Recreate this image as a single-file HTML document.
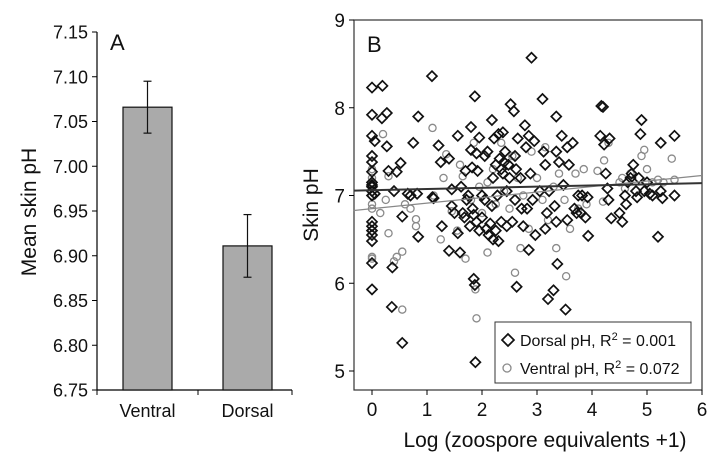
<!DOCTYPE html>
<html><head><meta charset="utf-8"><style>
html,body{margin:0;padding:0;background:#fff;}
svg{display:block;font-family:"Liberation Sans",Arial,sans-serif;}
</style></head><body>
<svg id="chart" width="726" height="458" viewBox="0 0 726 458" xmlns="http://www.w3.org/2000/svg">
<g id="pa"></g>
<g id="pb"></g>
</svg>
<script>
// Panel A data
const barCats = ["Ventral","Dorsal"];
const barMeans = [7.066, 6.911];
const barErr = [0.029, 0.035];
const aTicks = ["6.75","6.80","6.85","6.90","6.95","7.00","7.05","7.10","7.15"];
// Panel B data
const dorsalX = [0,0,0,0,0,0,0,0,0,0,0,0,0,0,0,0,0,0,0.05,0.05,0.19,0.18,0.27,0.27,0.3,0.4,0.45,0.52,0.55,0.37,0.36,0.55,0.65,0.7,0.75,0.82,0.84,0.84,1.09,1.1,1.12,1.21,1.25,1.27,1.4,1.4,1.45,1.45,1.5,1.56,1.56,1.6,1.62,1.65,1.68,1.7,1.72,1.75,1.78,1.8,1.8,1.82,1.83,1.85,1.85,1.87,1.87,1.88,1.9,1.9,1.92,1.95,1.95,2.0,2.0,2.05,2.05,2.08,2.1,2.12,2.15,2.18,2.18,2.2,2.2,2.22,2.25,2.25,2.28,2.3,2.3,2.32,2.35,2.35,2.38,2.38,2.4,2.42,2.45,2.45,2.48,2.5,2.52,2.55,2.58,2.6,2.6,2.62,2.63,2.65,2.7,2.72,2.75,2.78,2.8,2.82,2.85,2.85,2.88,2.9,2.92,2.95,2.97,3.05,3.1,3.12,3.15,3.15,3.18,3.2,3.22,3.3,3.32,3.35,3.35,3.35,3.37,3.4,3.45,3.48,3.52,3.55,3.55,3.58,3.65,3.68,3.72,3.75,3.8,3.82,3.88,3.92,3.93,4.15,4.17,4.2,4.22,4.25,4.28,4.3,4.32,4.35,4.5,4.55,4.6,4.62,4.65,4.7,4.72,4.75,4.8,4.82,4.85,4.88,4.9,4.95,5.0,5.05,5.1,5.2,5.25,5.25,5.28,5.5,5.5];
const dorsalY = [8.23,7.92,7.68,7.45,7.38,7.27,7.15,7.12,7.10,7.05,7.0,6.7,6.65,6.6,6.55,6.48,6.23,5.93,7.62,7.02,8.25,7.88,7.94,7.56,7.28,7.05,7.27,7.37,6.76,6.18,5.73,5.32,7.02,7.0,7.6,7.02,7.9,6.53,8.36,6.98,6.97,7.57,7.38,6.65,7.42,6.37,7.07,6.88,6.8,7.68,6.57,6.35,7.1,6.8,6.75,7.28,6.95,7.0,6.65,7.78,7.52,7.32,6.85,6.78,6.05,8.13,5.98,5.1,7.48,6.7,7.28,7.66,6.6,7.0,6.75,7.45,6.95,6.62,7.5,6.55,6.68,7.86,6.88,7.2,6.5,7.65,7.35,6.6,7.0,7.7,6.48,7.42,7.3,6.7,7.72,7.25,7.38,7.5,7.05,6.65,7.35,7.2,8.04,6.7,7.96,7.45,6.95,7.3,5.96,7.65,7.2,6.85,6.65,7.8,7.55,6.85,7.68,6.38,7.25,8.57,6.95,7.62,6.55,7.05,8.1,7.5,7.35,6.62,6.8,5.82,7.05,5.92,6.88,7.9,7.5,6.7,6.22,7.38,7.68,7.12,5.7,7.55,6.72,7.35,7.6,6.85,6.8,7.0,6.8,7.0,6.75,6.98,6.54,7.68,8.02,8.01,7.58,7.25,7.08,6.95,7.65,6.74,6.8,6.7,7.0,6.9,7.15,7.2,7.25,7.35,7.05,6.98,7.2,7.7,7.86,7.05,7.15,7.02,7.0,6.53,7.6,7.05,6.97,7.68,7.0];
const ventralX = [0,0,0,0,0,0,0,0,0,0.2,0.15,0.25,0.3,0.3,0.4,0.45,0.55,0.55,0.6,0.7,0.8,0.8,1.1,1.12,1.25,1.3,1.35,1.45,1.55,1.6,1.65,1.7,1.8,1.85,1.88,1.9,1.95,2.0,2.1,2.1,2.2,2.25,2.35,2.4,2.5,2.55,2.6,2.65,2.7,2.75,2.85,2.9,3.0,3.1,3.15,3.2,3.3,3.35,3.4,3.5,3.53,3.6,3.7,3.75,3.85,3.9,4.1,4.2,4.22,4.3,4.5,4.55,4.6,4.7,4.9,4.95,5.0,5.1,5.2,5.3,5.45,5.5];
const ventralY = [7.3,7.2,7.0,6.9,6.85,6.6,6.3,6.28,7.1,7.7,6.8,6.95,7.22,6.57,6.25,6.3,6.36,5.7,6.9,6.85,6.65,6.73,7.77,7.0,6.5,7.2,7.47,6.82,6.6,7.35,7.22,6.28,6.95,7.6,5.93,5.6,7.1,6.8,7.15,6.35,7.3,6.9,7.6,7.05,6.85,7.45,6.12,7.2,6.4,7.0,6.62,7.5,7.2,6.95,7.55,6.72,7.1,6.4,7.25,6.95,6.08,6.62,7.25,6.85,7.3,6.9,7.28,6.93,7.4,7.6,7.15,7.2,7.08,7.25,7.45,7.52,7.3,7.15,7.18,7.15,7.42,7.18];
const bYTicks = [5,6,7,8,9];
const bXTicks = [0,1,2,3,4,5,6];
const dorsalFit = [7.06, 0.0135]; // intercept, slope
const ventralFit = [6.85, 0.063];

const NS="http://www.w3.org/2000/svg";
function mk(p,t,a){const e=document.createElementNS(NS,t);for(const k in a)e.setAttribute(k,a[k]);p.appendChild(e);return e;}

// ---- Panel A ----
const pa=document.getElementById('pa');
const ay=v=>390-(v-6.75)/0.40*358;
const barCx=[147.5,247.5], barW=49;
let e=mk(pa,'line',{x1:97,y1:32,x2:97,y2:390,stroke:'#000','stroke-width':1.2});


e=mk(pa,'line',{x1:97,y1:390,x2:292,y2:390,stroke:'#000','stroke-width':1.2});


[97,198,292].forEach(x=>mk(pa,'line',{x1:x,y1:390,x2:x,y2:395,stroke:'#000','stroke-width':1}));
aTicks.forEach(t=>{const y=ay(parseFloat(t));
 mk(pa,'line',{x1:92,y1:y,x2:97,y2:y,stroke:'#000','stroke-width':1});
 const tx=mk(pa,'text',{x:88,y:y+6.5,'text-anchor':'end','font-size':18,fill:'#111'});tx.textContent=t;
 
 });
barCats.forEach((c,i)=>{const top=ay(barMeans[i]);
 const r=mk(pa,'rect',{x:barCx[i]-barW/2,y:top,width:barW,height:390-top,fill:'#aaaaaa',stroke:'#111','stroke-width':1.2});
 
 
 const y1=ay(barMeans[i]+barErr[i]),y2=ay(barMeans[i]-barErr[i]);
 const g=mk(pa,'g',{stroke:'#111','stroke-width':1.2});
 
 
 mk(g,'line',{x1:barCx[i],y1:y1,x2:barCx[i],y2:y2});
 mk(g,'line',{x1:barCx[i]-4,y1:y1,x2:barCx[i]+4,y2:y1});
 mk(g,'line',{x1:barCx[i]-4,y1:y2,x2:barCx[i]+4,y2:y2});
 const tx=mk(pa,'text',{x:barCx[i],y:417,'text-anchor':'middle','font-size':18,fill:'#111'});tx.textContent=c;
 
 });
e=mk(pa,'text',{x:0,y:0,transform:'translate(36,212) rotate(-90)','text-anchor':'middle','font-size':21,fill:'#111'});e.textContent='Mean skin pH';


e=mk(pa,'text',{x:110,y:50,'font-size':22,fill:'#111'});e.textContent='A';



// ---- Panel B ----
const pb=document.getElementById('pb');
const bx=v=>372+v*55, by=v=>371-(v-5)*87.75;
e=mk(pb,'rect',{x:354,y:20,width:348,height:370,fill:'none',stroke:'#333','stroke-width':1.2});


bYTicks.forEach(t=>{const y=by(t);mk(pb,'line',{x1:349,y1:y,x2:354,y2:y,stroke:'#000'});
 const tx=mk(pb,'text',{x:345,y:y+7,'text-anchor':'end','font-size':19,fill:'#111'});tx.textContent=t;
 
 });
bXTicks.forEach(t=>{const x=bx(t);mk(pb,'line',{x1:x,y1:390,x2:x,y2:395,stroke:'#000'});
 const tx=mk(pb,'text',{x:x,y:416,'text-anchor':'middle','font-size':19,fill:'#111'});tx.textContent=t;
 
 });
ventralX.forEach((x,i)=>{const c=mk(pb,'circle',{cx:bx(x),cy:by(ventralY[i]),r:3.6,fill:'none',stroke:'#8a8a8a','stroke-width':1.3});
 
 });
dorsalX.forEach((x,i)=>{const cx=bx(x),cy=by(dorsalY[i]),s=5;
 const p=mk(pb,'path',{d:`M${cx} ${cy-s}L${cx+s} ${cy}L${cx} ${cy+s}L${cx-s} ${cy}Z`,fill:'none',stroke:'#111','stroke-width':1.7});
 
 });
const x0=-0.33,x1=6;
e=mk(pb,'line',{x1:bx(x0),y1:by(ventralFit[0]+ventralFit[1]*x0),x2:bx(x1),y2:by(ventralFit[0]+ventralFit[1]*x1),stroke:'#888','stroke-width':1.3});


e=mk(pb,'line',{x1:bx(x0),y1:by(dorsalFit[0]+dorsalFit[1]*x0),x2:bx(x1),y2:by(dorsalFit[0]+dorsalFit[1]*x1),stroke:'#333','stroke-width':2});


// legend
const lg=mk(pb,'g',{});


mk(lg,'rect',{x:495,y:322,width:196,height:61,fill:'#fff',stroke:'#333','stroke-width':1});
mk(lg,'path',{d:'M508 334L514 340L508 346L502 340Z',fill:'none',stroke:'#111','stroke-width':1.7});
e=mk(lg,'text',{x:520,y:346,'font-size':16,fill:'#111'});
e.innerHTML='Dorsal pH, R<tspan dy="-6" font-size="11">2</tspan><tspan dy="6"> = 0.001</tspan>';


mk(lg,'circle',{cx:507,cy:368,r:4,fill:'none',stroke:'#8a8a8a','stroke-width':1.3});
e=mk(lg,'text',{x:520,y:374,'font-size':16,fill:'#111'});
e.innerHTML='Ventral pH, R<tspan dy="-6" font-size="11">2</tspan><tspan dy="6"> = 0.072</tspan>';


e=mk(pb,'text',{x:0,y:0,transform:'translate(318,205) rotate(-90)','text-anchor':'middle','font-size':21,fill:'#111'});e.textContent='Skin pH';


e=mk(pb,'text',{x:545,y:447,'text-anchor':'middle','font-size':21,fill:'#111'});e.textContent='Log (zoospore equivalents +1)';


e=mk(pb,'text',{x:367,y:52,'font-size':22,fill:'#111'});e.textContent='B';


</script>
</body></html>
